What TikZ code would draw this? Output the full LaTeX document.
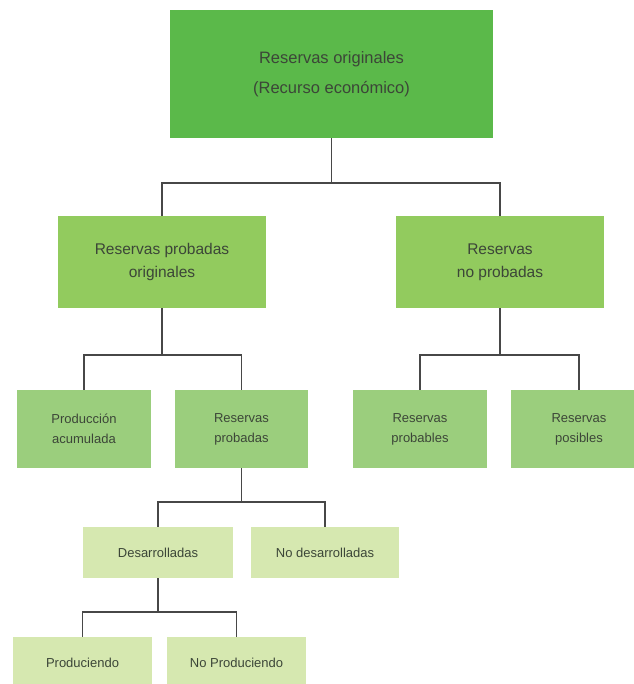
\documentclass[tikz,border=0pt]{standalone}
\usepackage{fontspec}
\setmainfont{Liberation Sans}
\definecolor{gtop}{HTML}{5BB94A}
\definecolor{gtwo}{HTML}{92CB5E}
\definecolor{gthree}{HTML}{9BCE7D}
\definecolor{gfour}{HTML}{D6E8B0}
\definecolor{txt}{HTML}{3C4638}
\definecolor{ln}{HTML}{474747}
\begin{document}
\begin{tikzpicture}[x=1pt,y=-1pt,
  box/.style={rectangle, inner sep=0pt, align=center, text=txt},
  topbox/.style={box, fill=gtop, minimum width=323pt, minimum height=128pt, font=\fontsize{16.5}{30}\selectfont},
  twobox/.style={box, fill=gtwo, minimum width=208pt, minimum height=92pt, font=\fontsize{15.5}{23}\selectfont},
  threebox/.style={box, fill=gthree, minimum height=78pt, font=\fontsize{13}{20}\selectfont},
  fourbox/.style={box, fill=gfour, minimum width=139pt, minimum height=52pt, font=\fontsize{13}{20}\selectfont},
  conn/.style={draw=ln, line width=1.5pt}]
\useasboundingbox (0,0) rectangle (633,684);
\fill[white] (0,0) rectangle (633,684);
% boxes
\node[topbox] (top) at (331.5,74) {Reservas originales\\ (Recurso económico)};
\node[twobox] (l2a) at (162,262) {Reservas probadas\\originales};
\node[twobox] (l2b) at (500,262) {Reservas\\no probadas};
\node[threebox, minimum width=134pt] (l3a) at (84,429) {Producción\\acumulada};
\node[threebox, minimum width=133pt] (l3b) at (241.5,429) {Reservas\\probadas};
\node[threebox, minimum width=134pt] (l3c) at (420,429) {Reservas\\probables};
\node[threebox, minimum width=136pt] (l3d) at (579,429) {Reservas\\posibles};
\node[fourbox, minimum width=150pt, minimum height=51pt] (l4a) at (158,552.5) {Desarrolladas};
\node[fourbox, minimum width=148pt, minimum height=51pt] (l4b) at (325,552.5) {No desarrolladas};
\node[fourbox] (l5a) at (82.5,663) {Produciendo};
\node[fourbox] (l5b) at (236.5,663) {No Produciendo};
% junctions
\coordinate (j1) at (331.5,183);
\coordinate (j2) at (162,355);
\coordinate (j3) at (500,355);
\coordinate (j4) at (241.5,502);
\coordinate (j5) at (158,612);
% connectors
\draw[conn] (top.south) -- (j1);
\draw[conn] (l2a.north) |- (j1) -| (l2b.north);
\draw[conn] (l2a.south) -- (j2);
\draw[conn] (l3a.north) |- (j2) -| (l3b.north);
\draw[conn] (l2b.south) -- (j3);
\draw[conn] (l3c.north) |- (j3) -| (l3d.north);
\draw[conn] (l3b.south) -- (j4);
\draw[conn] (l4a.north) |- (j4) -| (l4b.north);
\draw[conn] (l4a.south) -- (j5);
\draw[conn] (l5a.north) |- (j5) -| (l5b.north);
\end{tikzpicture}
\end{document}
